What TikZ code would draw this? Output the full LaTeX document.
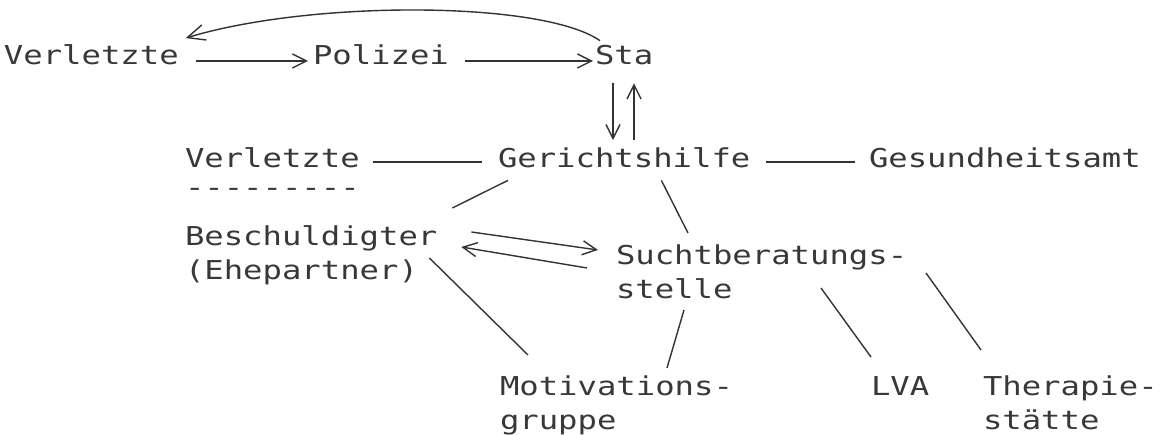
\documentclass[tikz,border=0pt]{standalone}
\usepackage{fontspec}
\setmonofont{DejaVu Sans Mono}[FakeStretch=1.24]
\usepackage{tikz}
\usetikzlibrary{arrows.meta}
\tikzset{lbl/.style={inner sep=0pt,outer sep=0pt,font=\ttfamily\fontsize{14.8}{19.35}\selectfont,text=black!78}}
\tikzset{mlbl/.style={lbl,align=left,anchor=north west}}

\begin{document}
\begin{tikzpicture}[x=0.02cm,y=0.02cm,>={Straight Barb[length=8pt,width=8pt]},line width=0.8pt,black!80]
    \useasboundingbox (0,0) rectangle (1163,435);
    \node[lbl,anchor=base west] (ver) at (4,370) {Verletzte};
    \node[lbl,anchor=base west] (pol) at (313,370) {Polizei};
    \node[lbl,anchor=base west] (sta) at (595,370) {Sta};
    \node[lbl,anchor=base west] (ver2) at (185,267) {Verletzte};
    \node[lbl,anchor=base west] (ger) at (498,267) {Gerichtshilfe};
    \node[lbl,anchor=base west] (ges) at (869,267) {Gesundheitsamt};
    \node[lbl,anchor=base west] (dsh) at (185,238) {---------};
    \node[mlbl] (bes) at (185,209) {Beschuldigter\\(Ehepartner)};
    \node[mlbl] (such) at (616,190) {Suchtberatungs-\\stelle};
    \node[mlbl] (mot) at (500,59) {Motivations-\\gruppe};
    \node[lbl,anchor=base west] (lva) at (871,39) {LVA};
    \node[mlbl] (ther) at (983,59) {Therapie-\\stätte};

    \draw [->,shorten <=0.35cm,shorten >=0.1cm] ([yshift=0.08cm]ver.base east) to ([yshift=0.08cm]pol.base west);
    \draw [->,shorten <=0.32cm,shorten >=0.04cm] ([yshift=0.08cm]pol.base east) to ([yshift=0.08cm]sta.base west);
    \draw [-{Straight Barb[length=10pt,width=9pt]}] ([shift={(5,5)}]sta.north west) .. controls +(145:70) and +(17:130) .. ([shift={(7,7)}]ver.north east);
    \draw [->] ([shift={(18,-18)}]sta.south west) to ([shift={(115,8)}]ger.north west);
    \draw [->] ([shift={(136,8)}]ger.north west) to ([shift={(39,-18)}]sta.south west);
    \draw [] ([shift={(13,6)}]ver2.base east) to ([shift={(-16,6)}]ger.base west);
    \draw [] ([shift={(16,6)}]ger.base east) to ([shift={(-14,6)}]ges.base west);
    \draw [] ([shift={(10,-12)}]ger.south west) to ([shift={(15,18)}]bes.north east);
    \draw [] ([shift={(-89,-12)}]ger.south east) to ([shift={(72,12)}]such.north west);
    \draw [->] ([shift={(34,-6)}]bes.north east) to ([shift={(-18,-5)}]such.north west);
    \draw [->] ([shift={(-29,-23)}]such.north west) to ([shift={(24,-21)}]bes.north east);
    \draw [] ([shift={(-8,-32)}]bes.north east) to ([shift={(28,21)}]mot.north west);
    \draw [] ([shift={(68,-65)}]such.north west) to ([shift={(167,8)}]mot.north west);
    \draw [] ([shift={(205,-43)}]such.north west) to ([shift={(0,20)}]lva.north west);
    \draw [] ([shift={(310,-28)}]such.north west) to ([shift={(-2,26)}]ther.north west);
\end{tikzpicture}
\end{document}
